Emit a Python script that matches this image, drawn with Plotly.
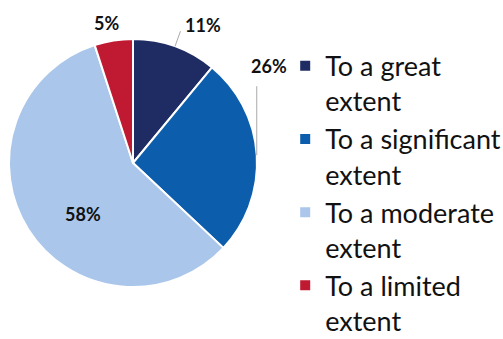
import math
import plotly.graph_objects as go

categories = ["To a great<br>extent", "To a significant<br>extent",
              "To a moderate<br>extent", "To a limited<br>extent"]
values = [11, 26, 58, 5]
colors = ["#1F2C64", "#0C5EAD", "#AAC6EA", "#C01A32"]

W, H = 503, 339
# pie geometry in pixels
CX, CY, R = 133, 163, 124

def px(x):
    return x / W

def py(y):
    return 1 - y / H

fig = go.Figure()
fig.add_trace(go.Pie(
    labels=categories,
    values=values,
    sort=False,
    direction="clockwise",
    rotation=0,
    marker=dict(colors=colors, line=dict(color="white", width=2)),
    textinfo="none",
    hoverinfo="label+percent",
    domain=dict(x=[px(CX - R), px(CX + R)], y=[py(CY + R), py(CY - R)]),
))

total = sum(values)
cum = 0
mids = []
for v in values:
    mids.append((cum + v / 2) / total * 2 * math.pi)
    cum += v

def edge(theta, r):
    return CX + r * math.sin(theta), CY - r * math.cos(theta)

lab_font = dict(family="Lato, sans-serif", size=18, color="#111111")
line_col = "#AAAAAA"

def label(x, y, txt):
    fig.add_annotation(x=px(x), y=py(y), xref="paper", yref="paper",
                       xanchor="center", yanchor="middle",
                       text=f"<b>{txt}%</b>", showarrow=False, font=lab_font)

# 11% label with radial leader
t = mids[0]
x0, y0 = edge(t, R)
x1, y1 = edge(t, R * 1.13)
fig.add_shape(type="line", xref="paper", yref="paper",
              x0=px(x0), y0=py(y0), x1=px(x1), y1=py(y1),
              line=dict(color=line_col, width=1))
label(x1 + 23, y1 - 6, values[0])

# 26% label with vertical leader
t = mids[1]
x0, y0 = edge(t, R)
fig.add_shape(type="line", xref="paper", yref="paper",
              x0=px(x0), y0=py(y0), x1=px(x0), y1=py(y0 - 69),
              line=dict(color=line_col, width=1))
label(x0 + 12, y0 - 89, values[1])

# 58% inside
t = mids[2]
xl, yl = edge(t, R * 0.62)
label(xl + 15, yl + 10, values[2])

# 5% outside, no leader
t = mids[3]
xl, yl = edge(t, R * 1.14)
label(xl - 4, yl, values[3])

fig.update_layout(
    width=W, height=H,
    margin=dict(l=0, r=0, t=0, b=0, autoexpand=False),
    paper_bgcolor="white",
    plot_bgcolor="white",
    showlegend=True,
    legend=dict(
        x=0.567, y=0.877, xanchor="left", yanchor="top",
        font=dict(family="Lato, sans-serif", size=27, color="#111111"),
        itemwidth=30,
        valign="top",
        bgcolor="rgba(0,0,0,0)",
    ),
)

fig.write_html("out.html")
